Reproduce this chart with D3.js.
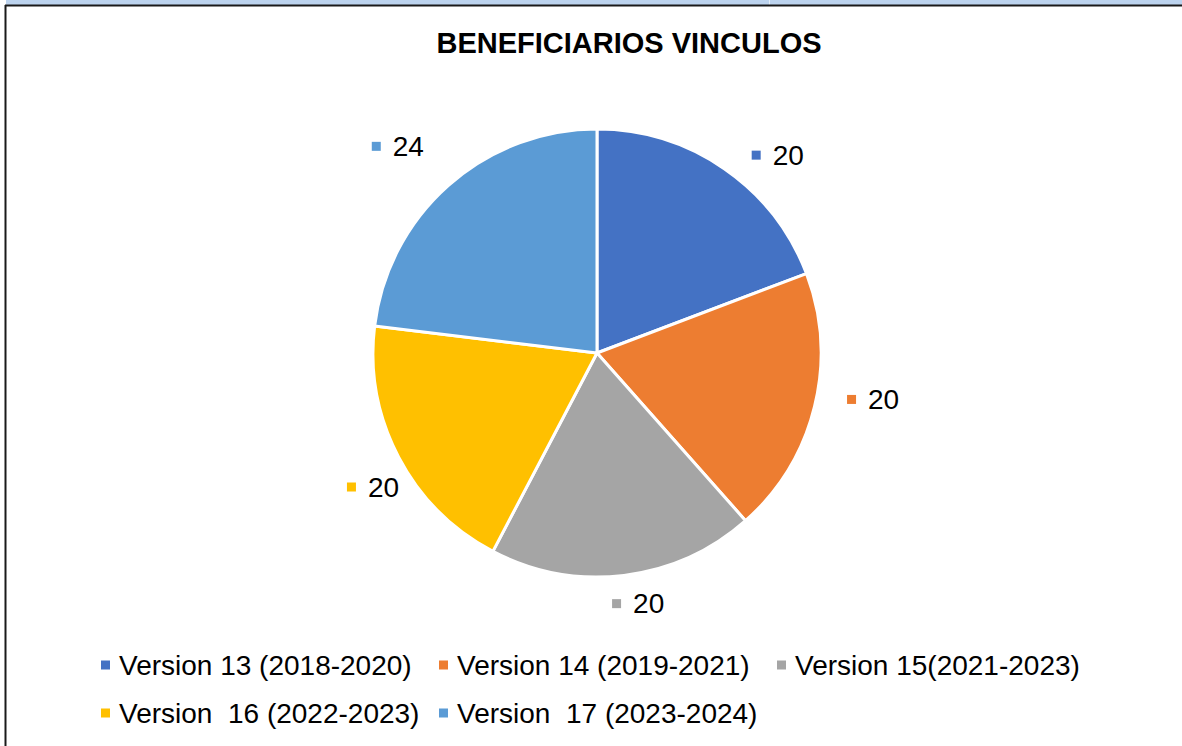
<!DOCTYPE html>
<html lang="es">
<head>
  <meta charset="UTF-8">
  <script src="https://d3js.org/d3.v7.min.js"></script>
  <style>
    body { margin: 0; background: #fff; font-family: "Liberation Sans", Arial, sans-serif; }
    svg { display: block; }
  </style>
</head>
<body>
<div id="chart"></div>
<script>
// data
const categories = [
  'Version 13 (2018-2020)',
  'Version 14 (2019-2021)',
  'Version 15(2021-2023)',
  'Version  16 (2022-2023)',
  'Version  17 (2023-2024)'
];
const values = [20, 20, 20, 20, 24];
const title = 'BENEFICIARIOS VINCULOS';

// layout / style
const colors = ['#4472C4', '#ED7D31', '#A5A5A5', '#FFC000', '#5B9BD5'];
// per-label [angle shift in degrees, distance from centre] (best-fit placement)
const labelNudge = [[7.8, 268], [-4.3, 280], [-2.4, 254], [-3.2, 261], [-2.4, 287]];

const W = 1182, H = 746;
const cx = 597, cy = 353, R = 224;

const svg = d3.select('#chart').append('svg')
  .attr('width', W).attr('height', H);

// frame: sheet strip on top and chart border
svg.append('rect').attr('x', 6).attr('y', 0).attr('width', W - 6).attr('height', 5).attr('fill', '#BCD3EE');
svg.append('line').attr('x1', 769.5).attr('x2', 769.5).attr('y1', 0).attr('y2', 5).attr('stroke', '#E4EEF9');
svg.append('line').attr('x1', 5).attr('x2', W).attr('y1', 5.5).attr('y2', 5.5).attr('stroke', '#1a1a1a').attr('stroke-width', 2);
svg.append('line').attr('x1', 5.5).attr('x2', 5.5).attr('y1', 5).attr('y2', H).attr('stroke', '#1a1a1a').attr('stroke-width', 2);

svg.append('text')
  .attr('x', 629).attr('y', 43).attr('dy', '0.35em')
  .attr('text-anchor', 'middle')
  .attr('font-size', 29).attr('font-weight', 'bold')
  .attr('fill', '#000')
  .text(title);

const pie = d3.pie().sort(null).value(d => d);
const arcs = pie(values);
const arc = d3.arc().innerRadius(0).outerRadius(R);

const g = svg.append('g').attr('transform', `translate(${cx},${cy})`);

g.selectAll('path.slice')
  .data(arcs)
  .enter().append('path')
  .attr('class', 'slice')
  .attr('d', arc)
  .attr('fill', (d, i) => colors[i])
  .attr('stroke', '#fff')
  .attr('stroke-width', 3)
  .attr('stroke-linejoin', 'round');

// data labels: small colour square + value
const labels = g.selectAll('g.lbl')
  .data(arcs)
  .enter().append('g')
  .attr('class', 'lbl')
  .attr('transform', (d, i) => {
    const a = (d.startAngle + d.endAngle) / 2 + labelNudge[i][0] * Math.PI / 180;
    const r = labelNudge[i][1];
    return `translate(${r * Math.sin(a)},${-r * Math.cos(a)})`;
  });

labels.each(function (d, i) {
  const lg = d3.select(this);
  const t = lg.append('text')
    .attr('font-size', 28).attr('fill', '#000')
    .attr('dy', '0.35em')
    .text(d.value);
  const tw = t.node().getComputedTextLength();
  const total = 9 + 12 + tw;
  lg.append('rect')
    .attr('x', -total / 2).attr('y', -4.5)
    .attr('width', 9).attr('height', 9)
    .attr('fill', colors[i]);
  t.attr('x', -total / 2 + 21);
});

// legend
const legendX = 101, colStep = 338, rowY = [665, 713];
const leg = svg.append('g');
categories.forEach((c, i) => {
  const x = legendX + (i % 3) * colStep;
  const y = rowY[Math.floor(i / 3)];
  leg.append('rect').attr('x', x).attr('y', y - 4.5).attr('width', 9).attr('height', 9).attr('fill', colors[i]);
  leg.append('text')
    .attr('x', x + 18).attr('y', y).attr('dy', '0.35em')
    .attr('font-size', 28).attr('fill', '#000')
    .attr('xml:space', 'preserve')
    .style('white-space', 'pre')
    .text(c);
});
</script>
</body>
</html>
